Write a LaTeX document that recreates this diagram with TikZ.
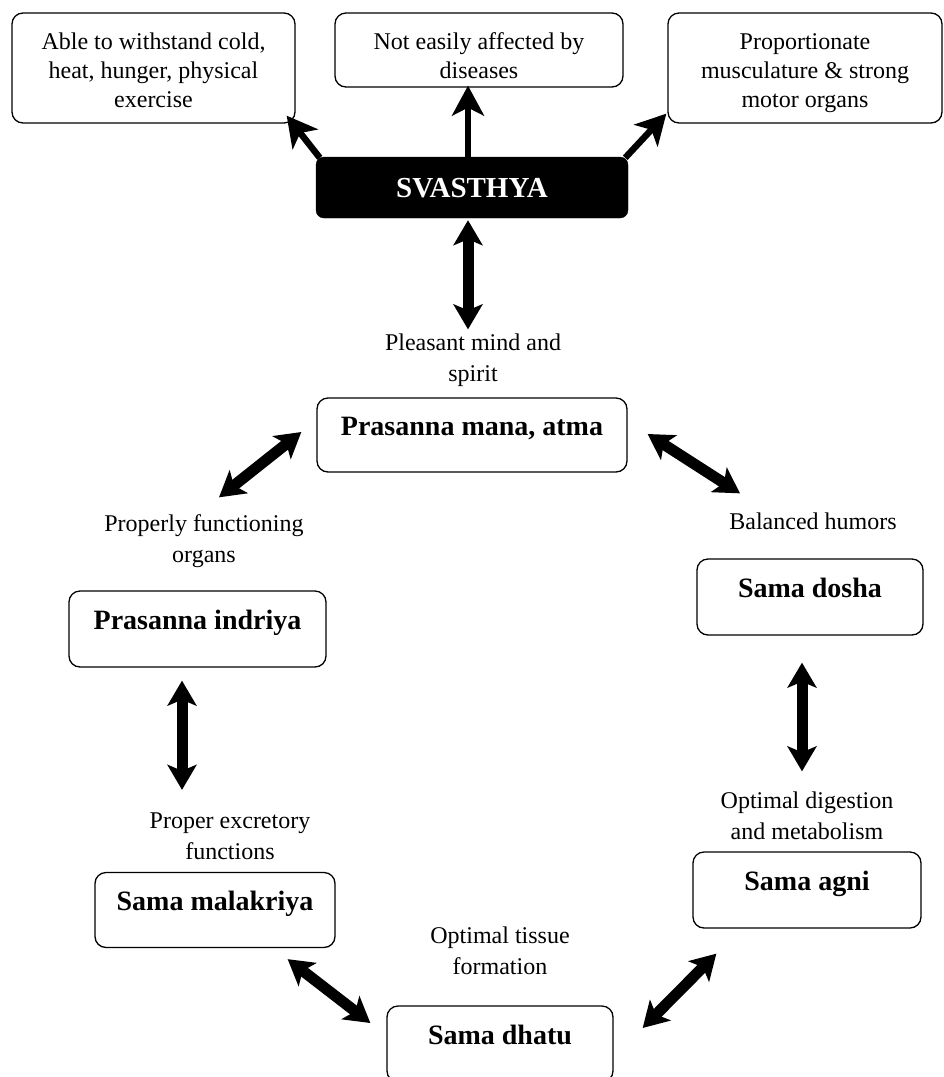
\documentclass[tikz,border=0pt]{standalone}
\usepackage{fontspec}
\setmainfont{Liberation Serif}
\usetikzlibrary{arrows.meta,calc}
\begin{document}
\begin{tikzpicture}[x=1pt,y=-1pt,
  box/.style={draw=black, line width=1.3pt, rounded corners=11pt, inner sep=0pt},
  topbox/.style={box, font=\fontsize{24}{29}\selectfont, text height=0pt},
  mainbox/.style={box, font=\fontsize{28}{34}\selectfont\bfseries,
    minimum height=76pt, text height=0pt, text depth=0pt},
  note/.style={font=\fontsize{24}{31}\selectfont, anchor=base, inner sep=0pt},
  hub/.style={fill=black, draw=black, rounded corners=8pt, text=white,
    font=\fontsize{29}{33}\selectfont\bfseries, inner sep=0pt,
    text height=19pt, text depth=0pt},
  outarrow/.style={line width=6.5pt, -{Stealth[length=30pt,width=32pt,inset=8pt]}},
  linkarrow/.style={line width=11pt,
    {Stealth[length=25pt,width=29pt,inset=6pt]}-{Stealth[length=25pt,width=29pt,inset=6pt]}},
]
\useasboundingbox (0,0) rectangle (944,1077);

% outcome boxes along the top
\node[topbox, minimum width=283pt, minimum height=110pt, text depth=37pt] (a) at (153.5,68)
  {\begin{tabular}[t]{@{}c@{}}Able to withstand cold,\\heat, hunger, physical\\exercise\end{tabular}};
\node[topbox, minimum width=288pt, minimum height=74pt, text depth=1pt] (b) at (479,50)
  {\begin{tabular}[t]{@{}c@{}}Not easily affected by\\diseases\end{tabular}};
\node[topbox, minimum width=274pt, minimum height=110pt, text depth=37pt] (c) at (805,68)
  {\begin{tabular}[t]{@{}c@{}}Proportionate\\musculature \& strong\\motor organs\end{tabular}};

% central state
\node[hub, minimum width=312pt, minimum height=61pt] (sv) at (472,187.5) {SVASTHYA};

% the cycle of balanced states
\node[mainbox, minimum width=310pt, minimum height=74pt] (pm) at (472,435) {Prasanna mana, atma};
\node[mainbox, minimum width=257pt] (pi) at (197.5,629) {Prasanna indriya};
\node[mainbox, minimum width=226pt] (sd) at (810,597) {Sama dosha};
\node[mainbox, minimum width=228pt] (sa) at (807,890) {Sama agni};
\node[mainbox, minimum width=240pt, minimum height=75pt] (sm) at (215,910) {Sama malakriya};
\node[mainbox, minimum width=226pt] (sdh) at (500,1044) {Sama dhatu};

% plain-language captions
\node[note] (l1) at (473,350) {\begin{tabular}[t]{@{}c@{}}Pleasant mind and\\spirit\end{tabular}};
\node[note] (l2) at (204,531) {\begin{tabular}[t]{@{}c@{}}Properly functioning\\organs\end{tabular}};
\node[note] (l3) at (813,529) {Balanced humors};
\node[note] (l4) at (230,828) {\begin{tabular}[t]{@{}c@{}}Proper excretory\\functions\end{tabular}};
\node[note] (l5) at (807,808) {\begin{tabular}[t]{@{}c@{}}Optimal digestion\\and metabolism\end{tabular}};
\node[note] (l6) at (500,943) {\begin{tabular}[t]{@{}c@{}}Optimal tissue\\formation\end{tabular}};

% arrows out of the central state
\draw[outarrow] ($(sv.north west)+(4,1)$) -- ($(a.south east)+(-9,-8)$);
\draw[outarrow] ($(sv.north)+(-4,0)$) -- ($(b.south)+(-11,-2)$);
\draw[outarrow] ($(sv.north east)+(-3,1)$) -- ($(c.south west)+(-1,-10)$);

% two-way links
\draw[linkarrow] ($(sv.south)+(-4,2)$) -- ($(pm.north)+(-4,-68)$);
\draw[linkarrow] ($(pm.west)+(-15,-3)$) -- ($(pi.north)+(21.5,-93)$);
\draw[linkarrow] ($(pm.east)+(20,-1)$) -- ($(sd.north)+(-70,-65)$);
\draw[linkarrow] ($(pi.south)+(-15.5,13)$) -- ($(sm.north)+(-33,-82)$);
\draw[linkarrow] ($(sd.south)+(-8,27)$) -- ($(sa.north)+(-5,-80)$);
\draw[linkarrow] ($(sm.south east)+(-48,11)$) -- ($(sdh.west)+(-16,-21)$);
\draw[linkarrow] ($(sdh.east)+(29,-16)$) -- ($(sa.south west)+(24,25)$);
\end{tikzpicture}
\end{document}
